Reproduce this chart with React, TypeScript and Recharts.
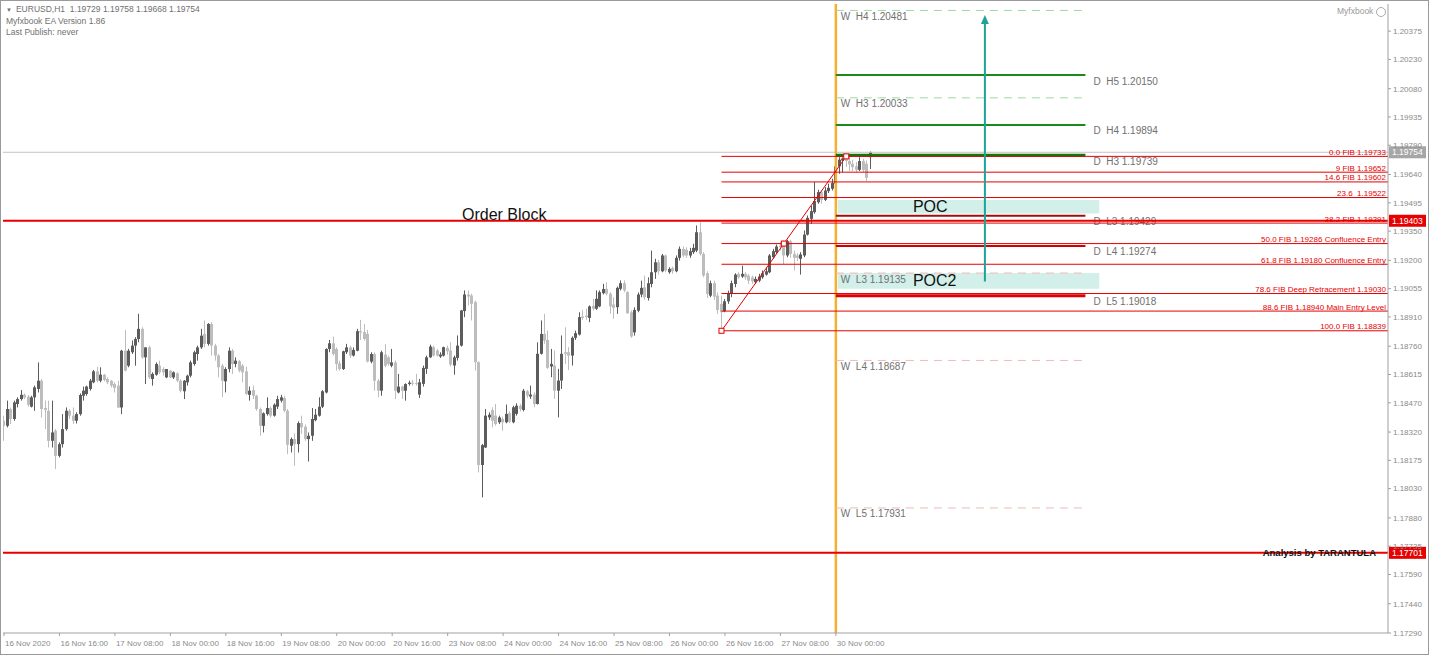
import React from "react";
import {
	Bar,
	ComposedChart,
	ReferenceArea,
	ReferenceDot,
	ReferenceLine,
	XAxis,
	YAxis,
} from "recharts";

type OHLC = [number, number, number, number];

// hourly EURUSD candles, one array per trading day: [open, high, low, close]
const nov16: OHLC[] = [
	[1.18378, 1.18404, 1.18275, 1.18352], [1.18352, 1.18481, 1.18344, 1.18438], [1.18438, 1.18446, 1.18361, 1.18387],
	[1.18387, 1.18481, 1.18378, 1.18472], [1.18464, 1.18498, 1.18446, 1.18489], [1.18489, 1.18535, 1.18481, 1.18511],
	[1.18511, 1.18518, 1.18489, 1.18498], [1.18501, 1.1851, 1.1845, 1.1846], [1.1845, 1.18506, 1.18446, 1.18498],
	[1.18498, 1.18558, 1.18429, 1.18549], [1.18541, 1.18677, 1.18523, 1.18583], [1.18583, 1.18592, 1.18395, 1.18438],
	[1.18443, 1.18481, 1.18335, 1.18433], [1.18429, 1.18481, 1.18241, 1.18275], [1.18275, 1.18481, 1.18241, 1.18318],
	[1.18327, 1.18335, 1.1813, 1.18198], [1.18198, 1.18267, 1.1819, 1.18258], [1.18258, 1.18412, 1.18241, 1.18335],
	[1.18335, 1.18446, 1.18327, 1.18429], [1.18429, 1.18438, 1.18387, 1.18404], [1.18404, 1.18446, 1.18361, 1.18378],
	[1.18378, 1.18421, 1.18364, 1.18412], [1.18412, 1.18518, 1.18404, 1.1851], [1.18506, 1.18553, 1.18481, 1.18532],
];
const nov17: OHLC[] = [
	[1.18515, 1.18558, 1.18506, 1.18553], [1.18541, 1.18592, 1.18532, 1.18583], [1.18575, 1.18638, 1.1857, 1.18631],
	[1.18631, 1.18655, 1.18575, 1.18583], [1.18583, 1.18652, 1.18575, 1.18614], [1.18614, 1.18618, 1.1858, 1.18587],
	[1.18592, 1.186, 1.18566, 1.18575], [1.18583, 1.18587, 1.18549, 1.18558], [1.18566, 1.18575, 1.18523, 1.18546],
	[1.18558, 1.18583, 1.18443, 1.18446], [1.18446, 1.18741, 1.18412, 1.18737], [1.18737, 1.18843, 1.18631, 1.18635],
	[1.1866, 1.18746, 1.18652, 1.18737], [1.18729, 1.18789, 1.1872, 1.18763], [1.18763, 1.18806, 1.1866, 1.18797],
	[1.18797, 1.18926, 1.1878, 1.18849], [1.18849, 1.18857, 1.18695, 1.18703], [1.18703, 1.18754, 1.18566, 1.18754],
	[1.18754, 1.18763, 1.18592, 1.186], [1.18592, 1.18626, 1.18558, 1.18618], [1.18614, 1.18677, 1.18609, 1.18669],
	[1.1866, 1.18686, 1.18618, 1.18626], [1.18643, 1.18652, 1.18609, 1.18626], [1.186, 1.18643, 1.18597, 1.18643],
];
const nov18: OHLC[] = [
	[1.18635, 1.18638, 1.18597, 1.186], [1.186, 1.18631, 1.18592, 1.18626], [1.18621, 1.18626, 1.18575, 1.18583],
	[1.18583, 1.18592, 1.18523, 1.18532], [1.18529, 1.18587, 1.18489, 1.18583], [1.18575, 1.18614, 1.18558, 1.18609],
	[1.18609, 1.18686, 1.186, 1.18677], [1.18669, 1.18737, 1.1866, 1.18729], [1.1872, 1.18763, 1.18686, 1.18754],
	[1.18754, 1.18849, 1.18746, 1.18814], [1.18823, 1.18891, 1.18754, 1.18772], [1.18772, 1.18878, 1.18763, 1.18874],
	[1.18874, 1.18883, 1.18712, 1.18763], [1.18763, 1.18772, 1.18686, 1.18712], [1.18712, 1.1872, 1.186, 1.18652],
	[1.1866, 1.18669, 1.18498, 1.18583], [1.1858, 1.18652, 1.18523, 1.18643], [1.18643, 1.18754, 1.18626, 1.18737],
	[1.18737, 1.18746, 1.18618, 1.18669], [1.18669, 1.18703, 1.18652, 1.18686], [1.18683, 1.18689, 1.18626, 1.18635],
	[1.1866, 1.18669, 1.18575, 1.18626], [1.18631, 1.18655, 1.18511, 1.18515], [1.18511, 1.18553, 1.18481, 1.18532],
];
const nov19: OHLC[] = [
	[1.18535, 1.18558, 1.18489, 1.18506], [1.18506, 1.18511, 1.18429, 1.18438], [1.18438, 1.18446, 1.18301, 1.18352],
	[1.18352, 1.18421, 1.18318, 1.18416], [1.18412, 1.18498, 1.18404, 1.18443], [1.18443, 1.1845, 1.18395, 1.18404],
	[1.18404, 1.18467, 1.18399, 1.1846], [1.1845, 1.18506, 1.18438, 1.18489], [1.18481, 1.18511, 1.18472, 1.18498],
	[1.18494, 1.18506, 1.18421, 1.18429], [1.18429, 1.18438, 1.18207, 1.18255], [1.1825, 1.18292, 1.18215, 1.18284],
	[1.18284, 1.18313, 1.18147, 1.18258], [1.18258, 1.18375, 1.18215, 1.18366], [1.18366, 1.18404, 1.1831, 1.18344],
	[1.18347, 1.18358, 1.18275, 1.18284], [1.18284, 1.18318, 1.18169, 1.18301], [1.18301, 1.18443, 1.18275, 1.18387],
	[1.18381, 1.18438, 1.18375, 1.18409], [1.18404, 1.18498, 1.18399, 1.1845], [1.1845, 1.18535, 1.18443, 1.18529],
	[1.18523, 1.18749, 1.18518, 1.18746], [1.18746, 1.18792, 1.18729, 1.18775], [1.18775, 1.18809, 1.18712, 1.1872],
];
const nov20: OHLC[] = [
	[1.18746, 1.18754, 1.18635, 1.18669], [1.18672, 1.18686, 1.18635, 1.18643], [1.18643, 1.18737, 1.18638, 1.18734],
	[1.18729, 1.18772, 1.1872, 1.18754], [1.18754, 1.18763, 1.187, 1.18712], [1.18712, 1.18754, 1.18707, 1.18741],
	[1.18737, 1.18849, 1.18734, 1.18837], [1.18837, 1.18895, 1.18792, 1.1883], [1.18833, 1.18874, 1.18789, 1.18797],
	[1.18823, 1.18843, 1.18677, 1.18681], [1.18681, 1.18729, 1.18672, 1.1872], [1.1872, 1.18729, 1.18532, 1.18583],
	[1.18583, 1.18592, 1.18498, 1.18532], [1.18532, 1.18737, 1.18506, 1.18729], [1.18717, 1.18772, 1.18652, 1.1866],
	[1.18703, 1.18712, 1.1866, 1.18669], [1.1866, 1.18746, 1.18652, 1.18677], [1.18677, 1.18686, 1.18489, 1.18532],
	[1.18523, 1.18618, 1.18518, 1.18553], [1.18553, 1.18558, 1.18489, 1.18532], [1.18532, 1.1857, 1.18481, 1.18566],
	[1.18566, 1.18583, 1.18558, 1.18573], [1.18573, 1.18587, 1.18558, 1.1857], [1.18571, 1.18618, 1.18558, 1.18566],
];
const nov23: OHLC[] = [
	[1.18512, 1.18592, 1.18495, 1.18575], [1.18567, 1.18661, 1.18553, 1.18649], [1.18644, 1.18712, 1.18618, 1.18703],
	[1.18703, 1.18768, 1.187, 1.18758], [1.18755, 1.18763, 1.18707, 1.18712], [1.18738, 1.18746, 1.18707, 1.18712],
	[1.18707, 1.18729, 1.187, 1.18717], [1.18712, 1.18758, 1.18707, 1.18755], [1.18751, 1.18763, 1.18717, 1.18734],
	[1.18738, 1.1878, 1.18656, 1.18666], [1.18661, 1.18712, 1.18614, 1.18703], [1.187, 1.18815, 1.18686, 1.18763],
	[1.18763, 1.18946, 1.18758, 1.18943], [1.1894, 1.19046, 1.18909, 1.19025], [1.19025, 1.19046, 1.18969, 1.19015],
	[1.1902, 1.19029, 1.18892, 1.18977], [1.18986, 1.18994, 1.18635, 1.18678], [1.18678, 1.18683, 1.18113, 1.18151],
	[1.18151, 1.18259, 1.17985, 1.18253], [1.18241, 1.18438, 1.18238, 1.18404], [1.18395, 1.18421, 1.18382, 1.18409],
	[1.18433, 1.18447, 1.18344, 1.18378], [1.18404, 1.18464, 1.18353, 1.18361], [1.1837, 1.18404, 1.18361, 1.18395],
];
const nov24: OHLC[] = [
	[1.18387, 1.18399, 1.18327, 1.1837], [1.1837, 1.18461, 1.18365, 1.18413], [1.18416, 1.18426, 1.18365, 1.18373],
	[1.1837, 1.18455, 1.18365, 1.18447], [1.18413, 1.18467, 1.18404, 1.18455], [1.18455, 1.18464, 1.18426, 1.18438],
	[1.18433, 1.18541, 1.18426, 1.18532], [1.18529, 1.18536, 1.18495, 1.18507], [1.18502, 1.18558, 1.1849, 1.18512],
	[1.18512, 1.18524, 1.18447, 1.18464], [1.18464, 1.1878, 1.18461, 1.18721], [1.18721, 1.18892, 1.18717, 1.18823],
	[1.18823, 1.18926, 1.18772, 1.18789], [1.18792, 1.1884, 1.18644, 1.18649], [1.18656, 1.18746, 1.18601, 1.18669],
	[1.18661, 1.18738, 1.1849, 1.18532], [1.18532, 1.18644, 1.18395, 1.18584], [1.18584, 1.18815, 1.18541, 1.18721],
	[1.18729, 1.18857, 1.18669, 1.18721], [1.18729, 1.18755, 1.18638, 1.18712], [1.18712, 1.1881, 1.18661, 1.18803],
	[1.18803, 1.1884, 1.18792, 1.18827], [1.1882, 1.18934, 1.18815, 1.18909], [1.18912, 1.18946, 1.18895, 1.18905],
];
const nov25: OHLC[] = [
	[1.18917, 1.18952, 1.18895, 1.18909], [1.18905, 1.18969, 1.18883, 1.18964], [1.18967, 1.19003, 1.18943, 1.18952],
	[1.18952, 1.19046, 1.18946, 1.19003], [1.18964, 1.19046, 1.1896, 1.19037], [1.19032, 1.1908, 1.19025, 1.19053],
	[1.19054, 1.19088, 1.1902, 1.19029], [1.19029, 1.19037, 1.18926, 1.18964], [1.18974, 1.19011, 1.189, 1.18957],
	[1.1896, 1.19066, 1.18926, 1.19059], [1.19054, 1.19097, 1.19046, 1.19083], [1.19083, 1.19097, 1.19037, 1.19046],
	[1.19037, 1.19042, 1.18926, 1.18929], [1.18934, 1.18943, 1.18803, 1.1881], [1.18831, 1.18959, 1.18814, 1.18946],
	[1.18942, 1.19036, 1.18934, 1.19025], [1.19025, 1.19096, 1.19011, 1.19059], [1.19062, 1.19122, 1.18997, 1.19011],
	[1.19007, 1.19113, 1.18994, 1.19083], [1.19079, 1.1925, 1.19062, 1.19139], [1.19139, 1.19208, 1.19105, 1.1919],
	[1.1919, 1.19202, 1.19127, 1.19144], [1.19144, 1.19233, 1.19139, 1.19225], [1.19225, 1.1923, 1.19139, 1.19148],
];
const nov26: OHLC[] = [
	[1.19139, 1.19165, 1.19131, 1.19156], [1.19161, 1.19168, 1.19131, 1.19144], [1.19144, 1.19225, 1.19139, 1.19213],
	[1.19213, 1.19271, 1.19199, 1.19259], [1.19259, 1.19271, 1.19216, 1.19225], [1.19254, 1.19267, 1.19213, 1.19225],
	[1.19225, 1.19264, 1.19213, 1.19247], [1.19242, 1.19285, 1.19233, 1.19264], [1.1925, 1.19379, 1.19242, 1.19344],
	[1.19344, 1.19396, 1.19225, 1.19233], [1.19233, 1.19242, 1.19113, 1.19122], [1.19134, 1.19144, 1.19007, 1.19028],
	[1.19019, 1.19096, 1.19011, 1.19083], [1.19083, 1.19096, 1.18997, 1.19014], [1.19019, 1.19036, 1.18925, 1.18946],
	[1.18977, 1.19019, 1.18839, 1.18934], [1.18939, 1.19002, 1.18934, 1.1899], [1.1899, 1.19045, 1.18977, 1.19031],
	[1.19028, 1.19096, 1.19011, 1.19083], [1.19079, 1.19134, 1.19062, 1.19127], [1.19131, 1.19139, 1.19105, 1.19113],
	[1.19117, 1.19173, 1.1911, 1.19131], [1.19131, 1.19139, 1.191, 1.19113], [1.19122, 1.19131, 1.19079, 1.19096],
];
const nov27: OHLC[] = [
	[1.19113, 1.19122, 1.19079, 1.19093], [1.19088, 1.19117, 1.19079, 1.19105], [1.19096, 1.19131, 1.19088, 1.19117],
	[1.19113, 1.19148, 1.19105, 1.19134], [1.19127, 1.19165, 1.19122, 1.19144], [1.19139, 1.19233, 1.19134, 1.19225],
	[1.19216, 1.19259, 1.19208, 1.19247], [1.19242, 1.19281, 1.19233, 1.19271], [1.19276, 1.19293, 1.1925, 1.19267],
	[1.19276, 1.19302, 1.19179, 1.19225], [1.19225, 1.19305, 1.19216, 1.19298], [1.19298, 1.19305, 1.19213, 1.19233],
	[1.19233, 1.1925, 1.19148, 1.19213], [1.19225, 1.19237, 1.19196, 1.19213], [1.19208, 1.19242, 1.19127, 1.1923],
	[1.19225, 1.19353, 1.19216, 1.19332], [1.19332, 1.1943, 1.19327, 1.19418], [1.19413, 1.19481, 1.19387, 1.19452],
	[1.19447, 1.19601, 1.19439, 1.19504], [1.19498, 1.19562, 1.1949, 1.1955], [1.1955, 1.19558, 1.1949, 1.1951],
	[1.1951, 1.19575, 1.19504, 1.19558], [1.19555, 1.19593, 1.19545, 1.19572], [1.19567, 1.19618, 1.19558, 1.19596],
];
const nov30: OHLC[] = [
	[1.19593, 1.19692, 1.19584, 1.19682], [1.19682, 1.19729, 1.19644, 1.19716], [1.19712, 1.19728, 1.19652, 1.19722],
	[1.19722, 1.19733, 1.19678, 1.1971], [1.1971, 1.19729, 1.19658, 1.19692], [1.19695, 1.19716, 1.19658, 1.19678],
	[1.19682, 1.19704, 1.19652, 1.19664], [1.19664, 1.19729, 1.19658, 1.19709], [1.19709, 1.19721, 1.19652, 1.19664],
	[1.19695, 1.19712, 1.19606, 1.19623], [1.19729, 1.19758, 1.19668, 1.19754],
];
const sessions = [nov16, nov17, nov18, nov19, nov20, nov23, nov24, nov25, nov26, nov27, nov30];

// time axis: one label every 16 bars
const xTickIdx = [0, 16, 32, 48, 64, 80, 96, 112, 128, 144, 160, 176, 192, 208, 224, 240];
const xTickLabels = [
	"16 Nov 2020", "16 Nov 16:00", "17 Nov 08:00", "18 Nov 00:00", "18 Nov 16:00", "19 Nov 08:00",
	"20 Nov 00:00", "20 Nov 16:00", "23 Nov 08:00", "24 Nov 00:00", "24 Nov 16:00", "25 Nov 08:00",
	"26 Nov 00:00", "26 Nov 16:00", "27 Nov 08:00", "30 Nov 00:00",
];
const yTicks = [
	1.20375, 1.2023, 1.2008, 1.19935, 1.1979, 1.1964, 1.19495, 1.1935, 1.192, 1.19055, 1.1891,
	1.1876, 1.18615, 1.1847, 1.1832, 1.18175, 1.1803, 1.1788, 1.17735, 1.1759, 1.1744, 1.1729,
];

// fibonacci retracement of the 26 Nov low -> 30 Nov high swing
const fibLevels = [1.19733, 1.19652, 1.19602, 1.19522, 1.19391, 1.19286, 1.1918, 1.1903, 1.1894, 1.18839];
const fibLabels = [
	"0.0 FIB 1.19733", "9 FIB 1.19652", "14.6 FIB 1.19602", "23.6  1.19522", "38.2 FIB 1.19391",
	"50.0 FIB 1.19286 Confluence Entry", "61.8 FIB 1.19180 Confluence Entry",
	"78.6 FIB Deep Retracement 1.19030", "88.6 FIB 1.18940 Main Entry Level", "100.0 FIB 1.18839",
];
const swingLowIdx = 207;
const swingHighIdx = 243;

// pivots
const dailyNames = ["H5", "H4", "H3", "L3", "L4", "L5"];
const dailyValues = [1.2015, 1.19894, 1.19739, 1.19429, 1.19274, 1.19018];
const weeklyNames = ["H4", "H3", "L3", "L4", "L5"];
const weeklyValues = [1.20481, 1.20033, 1.19135, 1.18687, 1.17931];

const pocZone = [1.1944, 1.1951];
const poc2Zone = [1.19055, 1.19135];
const targetFrom = 1.19092;
const targetTo = 1.20457;

const orderBlock = 1.19403;
const analysisLevel = 1.17701;
const lastPrice = 1.19754;
const headerLine = "EURUSD,H1  1.19729 1.19758 1.19668 1.19754";

const candles = sessions.flat().map((k, i) => ({
	i,
	o: k[0],
	h: k[1],
	l: k[2],
	c: k[3],
	range: [k[2], k[1]],
}));

const FONT = "'Liberation Sans', Arial, sans-serif";
const RED = "#e60000";
const X_DOMAIN: [number, number] = [-0.29, 399.3];
const Y_DOMAIN: [number, number] = [1.1729, 1.20514];
const pivotStart = 240; // first bar of 30 Nov
const pivotEnd = pivotStart + 72;

const Candle = (props: any) => {
	const { x, y, width, height, payload } = props;
	if (!payload || height == null) return null;
	const { o, h, l, c } = payload;
	const k = height / (h - l || 1);
	const cx = Math.floor(x + width / 2) + 0.5;
	const yo = y + (h - o) * k;
	const yc = y + (h - c) * k;
	const top = Math.min(yo, yc);
	const bh = Math.max(1, Math.abs(yo - yc));
	const col = c >= o ? "#5c5c5c" : "#bdbdbd";
	return (
		<g>
			<line x1={cx} x2={cx} y1={y} y2={y + height} stroke={col} strokeWidth={1} />
			<rect x={cx - 1.5} y={top} width={3} height={bh} fill={col} />
		</g>
	);
};

const XTick = ({ x, y, payload }: any) => (
	<text x={x + 1} y={y + 8} fontSize={8} fill="#8a8a8a" fontFamily={FONT}>
		{xTickLabels[xTickIdx.indexOf(payload.value)]}
	</text>
);

const FibText = ({ viewBox, text }: any) =>
	viewBox ? (
		<text x={viewBox.x + viewBox.width - 2} y={viewBox.y - 1.5} textAnchor="end" fontSize={8} fill={RED} fontFamily={FONT} style={{ whiteSpace: "pre" }}>
			{text}
		</text>
	) : null;

const PivotText = ({ viewBox, text, left }: any) =>
	viewBox ? (
		<text
			x={left ? viewBox.x + 5 : viewBox.x + viewBox.width + 8}
			y={viewBox.y + 9.5}
			fontSize={10}
			fill="#707070"
			fontFamily={FONT}
			style={{ whiteSpace: "pre" }}
		>
			{text}
		</text>
	) : null;

const PriceBox = ({ viewBox, text, fill, note }: any) =>
	viewBox ? (
		<g>
			{note ? (
				<text x={viewBox.x + viewBox.width - 12} y={viewBox.y + 3.5} textAnchor="end" fontSize={9.5} fontWeight="bold" fill="#111" fontFamily={FONT}>
					{note}
				</text>
			) : null}
			<rect x={viewBox.x + viewBox.width + 1} y={viewBox.y - 6} width={37} height={12} fill={fill} />
			<text x={viewBox.x + viewBox.width + 4} y={viewBox.y + 3} fontSize={8.5} fill="#fff" fontFamily={FONT}>
				{text}
			</text>
		</g>
	) : null;

const OrderBlockText = ({ viewBox }: any) =>
	viewBox ? (
		<g>
			<text x={viewBox.x + 459} y={viewBox.y - 1} fontSize={16} fill="#111" fontFamily={FONT}>
				Order Block
			</text>
			<rect x={viewBox.x + viewBox.width + 1} y={viewBox.y - 6} width={37} height={12} fill={RED} />
			<text x={viewBox.x + viewBox.width + 4} y={viewBox.y + 3} fontSize={8.5} fill="#fff" fontFamily={FONT}>
				{orderBlock.toFixed(5)}
			</text>
		</g>
	) : null;

const ZoneText = ({ viewBox, text }: any) =>
	viewBox ? (
		<text x={viewBox.x + 75} y={viewBox.y + viewBox.height / 2 + 5.5} fontSize={16} fill="#111" fontFamily={FONT}>
			{text}
		</text>
	) : null;

const Arrow = (p: any) => {
	const { x1, y1, x2, y2 } = p;
	return (
		<g>
			<line x1={x1} y1={y1} x2={x2} y2={y2 + 6} stroke="#1fa396" strokeWidth={2} />
			<polygon points={`${x2},${y2} ${x2 - 4},${y2 + 9} ${x2 + 4},${y2 + 9}`} fill="#1fa396" />
		</g>
	);
};

const Square = (p: any) => <rect x={p.cx - 2.5} y={p.cy - 2.5} width={5} height={5} fill="#fff" stroke={RED} strokeWidth={1} />;

const dailyStyle: Record<string, { stroke: string; w: number }> = {
	H5: { stroke: "#1a8a1a", w: 2 },
	H4: { stroke: "#1a8a1a", w: 2 },
	H3: { stroke: "#0a7a0a", w: 3 },
	L3: { stroke: "#9a1010", w: 2 },
	L4: { stroke: "#d00000", w: 2 },
	L5: { stroke: "#e00000", w: 3 },
};

export default function App() {
	return (
		<div style={{ position: "absolute", left: 0, top: 0, width: 1429, height: 655, background: "#fff", fontFamily: FONT }}>
			<ComposedChart width={1429} height={655} data={candles} margin={{ top: 4, right: 0, bottom: 0, left: 3 }}>
				<XAxis
					dataKey="i"
					type="number"
					domain={X_DOMAIN}
					allowDataOverflow
					ticks={xTickIdx}
					tick={<XTick />}
					tickSize={3}
					height={22}
					stroke="#a0a0a0"
					interval={0}
				/>
				<YAxis
					orientation="right"
					type="number"
					domain={Y_DOMAIN}
					allowDataOverflow
					ticks={yTicks}
					width={41}
					tickSize={3}
					stroke="#a0a0a0"
					interval={0}
					tick={{ fontSize: 8, fill: "#8a8a8a", fontFamily: FONT }}
					tickFormatter={(v: number) => v.toFixed(5)}
				/>

				<ReferenceArea x1={pivotStart + 0.6} x2={pivotEnd + 4} y1={pocZone[0]} y2={pocZone[1]} fill="#d2efe9" fillOpacity={1} stroke="none" label={<ZoneText text="POC" />} />
				<ReferenceArea x1={pivotStart + 0.6} x2={pivotEnd + 4} y1={poc2Zone[0]} y2={poc2Zone[1]} fill="#d2efe9" fillOpacity={1} stroke="none" label={<ZoneText text="POC2" />} />

				<Bar dataKey="range" barSize={3} shape={<Candle />} isAnimationActive={false} />

				<ReferenceLine y={lastPrice} stroke="#c4c4c4" strokeWidth={1} label={<PriceBox text={lastPrice.toFixed(5)} fill="#a6a6a6" />} />
				<ReferenceLine x={pivotStart} stroke="#f5b030" strokeWidth={2.5} />

				{weeklyValues.map((v, k) => (
					<ReferenceLine
						key={"w" + k}
						segment={[{ x: pivotStart, y: v }, { x: pivotEnd, y: v }]}
						stroke={weeklyNames[k].startsWith("H") ? "#9fd89f" : "#f2b8b8"}
						strokeWidth={1}
						strokeDasharray="8 6"
						label={<PivotText left text={`W  ${weeklyNames[k]} ${v.toFixed(5)}`} />}
					/>
				))}
				{dailyValues.map((v, k) => (
					<ReferenceLine
						key={"d" + k}
						segment={[{ x: pivotStart, y: v }, { x: pivotEnd, y: v }]}
						stroke={dailyStyle[dailyNames[k]].stroke}
						strokeWidth={dailyStyle[dailyNames[k]].w}
						label={<PivotText text={`D  ${dailyNames[k]} ${v.toFixed(5)}`} />}
					/>
				))}

				{fibLevels.map((v, k) => (
					<ReferenceLine
						key={"f" + k}
						segment={[{ x: swingLowIdx, y: v }, { x: X_DOMAIN[1], y: v }]}
						stroke={RED}
						strokeWidth={1}
						label={<FibText text={fibLabels[k]} />}
					/>
				))}
				<ReferenceLine
					segment={[{ x: swingLowIdx, y: fibLevels[fibLevels.length - 1] }, { x: swingHighIdx, y: fibLevels[0] }]}
					stroke={RED}
					strokeWidth={1}
				/>
				<ReferenceDot x={swingLowIdx} y={fibLevels[fibLevels.length - 1]} r={3} shape={Square} />
				<ReferenceDot x={(swingLowIdx + swingHighIdx) / 2} y={fibLevels[5]} r={3} shape={Square} />
				<ReferenceDot x={swingHighIdx} y={fibLevels[0]} r={3} shape={Square} />

				<ReferenceLine y={orderBlock} stroke={RED} strokeWidth={2} label={<OrderBlockText />} />
				<ReferenceLine y={analysisLevel} stroke={RED} strokeWidth={2} label={<PriceBox text={analysisLevel.toFixed(5)} fill={RED} note="Analysis by TARANTULA" />} />

				<ReferenceLine segment={[{ x: 283, y: targetFrom }, { x: 283, y: targetTo }]} shape={Arrow} />
			</ComposedChart>

			<div style={{ position: "absolute", left: 6, top: 4, fontSize: 8.5, lineHeight: "11px", color: "#707070", whiteSpace: "pre" }}>
				<div>
					<span style={{ fontSize: 6, marginRight: 4 }}>▼</span>
					{headerLine}
				</div>
				<div>Myfxbook EA Version 1.86</div>
				<div>Last Publish: never</div>
			</div>
			<div style={{ position: "absolute", left: 1337, top: 6, fontSize: 8.5, color: "#999" }}>
				Myfxbook
				<span style={{ display: "inline-block", width: 8, height: 8, border: "1px solid #aaa", borderRadius: "50%", marginLeft: 3, verticalAlign: "middle" }} />
			</div>
			<div style={{ position: "absolute", left: 0, top: 0, width: 1429, height: 655, boxSizing: "border-box", border: "1px solid #9a9a9a", pointerEvents: "none" }} />
		</div>
	);
}
